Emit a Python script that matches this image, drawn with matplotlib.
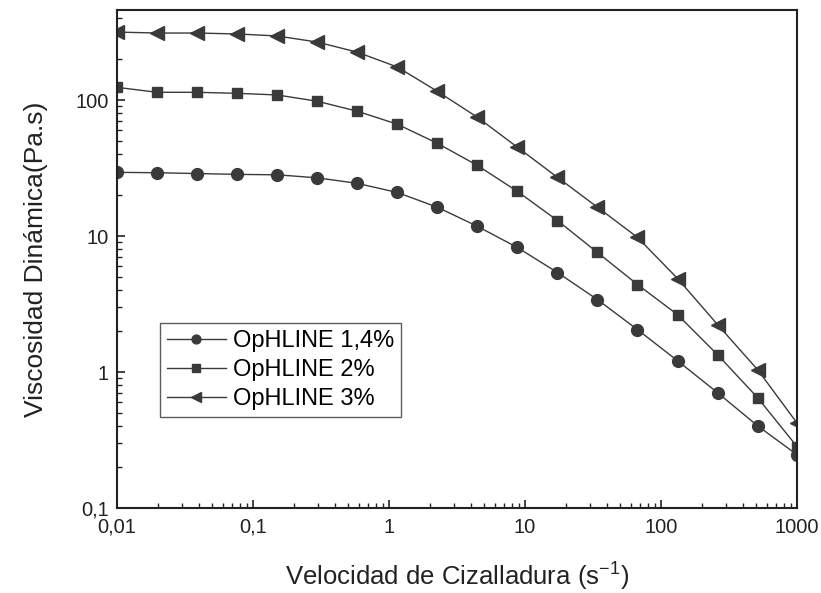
import matplotlib
matplotlib.use("Agg")
import matplotlib.pyplot as plt
from matplotlib.ticker import FixedLocator, FixedFormatter, LogLocator, NullFormatter

plt.rcParams['font.family'] = ['Liberation Sans', 'DejaVu Sans']
plt.rcParams['mathtext.fontset'] = 'custom'
plt.rcParams['mathtext.rm'] = 'Liberation Sans'

shear_rate = [0.01, 0.0197, 0.0388, 0.0764, 0.150, 0.296, 0.583, 1.15, 2.26,
              4.45, 8.77, 17.3, 34.0, 67.0, 132, 260, 512, 1000]
visc_14 = [29.4, 29.2, 28.8, 28.4, 28.2, 26.8, 24.4, 20.9, 16.3,
           11.8, 8.24, 5.39, 3.41, 2.05, 1.21, 0.704, 0.402, 0.246]
visc_2 = [124, 114, 114, 112, 109, 98, 82.8, 66.4, 48.1,
          33.1, 21.3, 13.0, 7.57, 4.40, 2.64, 1.34, 0.647, 0.282]
visc_3 = [316, 311, 311, 306, 296, 267, 225, 175, 116,
          74.8, 45.0, 27.0, 16.3, 9.77, 4.87, 2.23, 1.04, 0.42]
labels = ['OpHLINE 1,4%', 'OpHLINE 2%', 'OpHLINE 3%']

xticks = [0.01, 0.1, 1, 10, 100, 1000]
xticklabels = ['0,01', '0,1', '1', '10', '100', '1000']
yticks = [0.1, 1, 10, 100]
yticklabels = ['0,1', '1', '10', '100']

fig = plt.figure(figsize=(8.21, 5.93), dpi=100)
ax = fig.add_axes([0.1425, 0.1433, 0.8285, 0.8400])

col = '#3a3a3a'
ax.plot(shear_rate, visc_14, '-', marker='o', color=col, lw=1.0, ms=8.5, label=labels[0])
ax.plot(shear_rate, visc_2, '-', marker='s', color=col, lw=1.0, ms=7.5, label=labels[1])
ax.plot(shear_rate, visc_3, '-', marker='<', color=col, lw=1.0, ms=10, label=labels[2])

ax.set_xscale('log')
ax.set_yscale('log')
ax.set_xlim(0.01, 1000)
ax.set_ylim(0.1, 460)

ax.xaxis.set_major_locator(FixedLocator(xticks))
ax.xaxis.set_major_formatter(FixedFormatter(xticklabels))
ax.yaxis.set_major_locator(FixedLocator(yticks))
ax.yaxis.set_major_formatter(FixedFormatter(yticklabels))
ax.xaxis.set_minor_locator(LogLocator(base=10, subs=range(2, 10), numticks=20))
ax.yaxis.set_minor_locator(LogLocator(base=10, subs=range(2, 10), numticks=20))
ax.xaxis.set_minor_formatter(NullFormatter())
ax.yaxis.set_minor_formatter(NullFormatter())

ax.tick_params(which='both', direction='in', top=False, right=False, labelsize=14.5, colors='#222222')
ax.tick_params(which='major', length=6, width=1.2)
ax.tick_params(which='minor', length=3.5, width=1.0)
ax.tick_params(axis='x', which='major', pad=7)
ax.tick_params(axis='y', which='major', pad=6)
for s in ax.spines.values():
    s.set_linewidth(1.5)
    s.set_color('#222222')

ax.set_xlabel('Velocidad de Cizalladura (s$^{-1}$)', fontsize=18.5, color='#222222', labelpad=16)
ax.set_ylabel('Viscosidad Dinámica(Pa.s)', fontsize=19, color='#222222', labelpad=20)

leg = ax.legend(loc='upper left', bbox_to_anchor=(0.063, 0.372), fontsize=17,
                frameon=True, fancybox=False, edgecolor='#333333', handlelength=2.5,
                handletextpad=0.3, borderpad=0.3, labelspacing=0.3, borderaxespad=0,
                markerscale=0.75)
leg.get_frame().set_linewidth(1.0)

fig.savefig('out.png', dpi=100)
